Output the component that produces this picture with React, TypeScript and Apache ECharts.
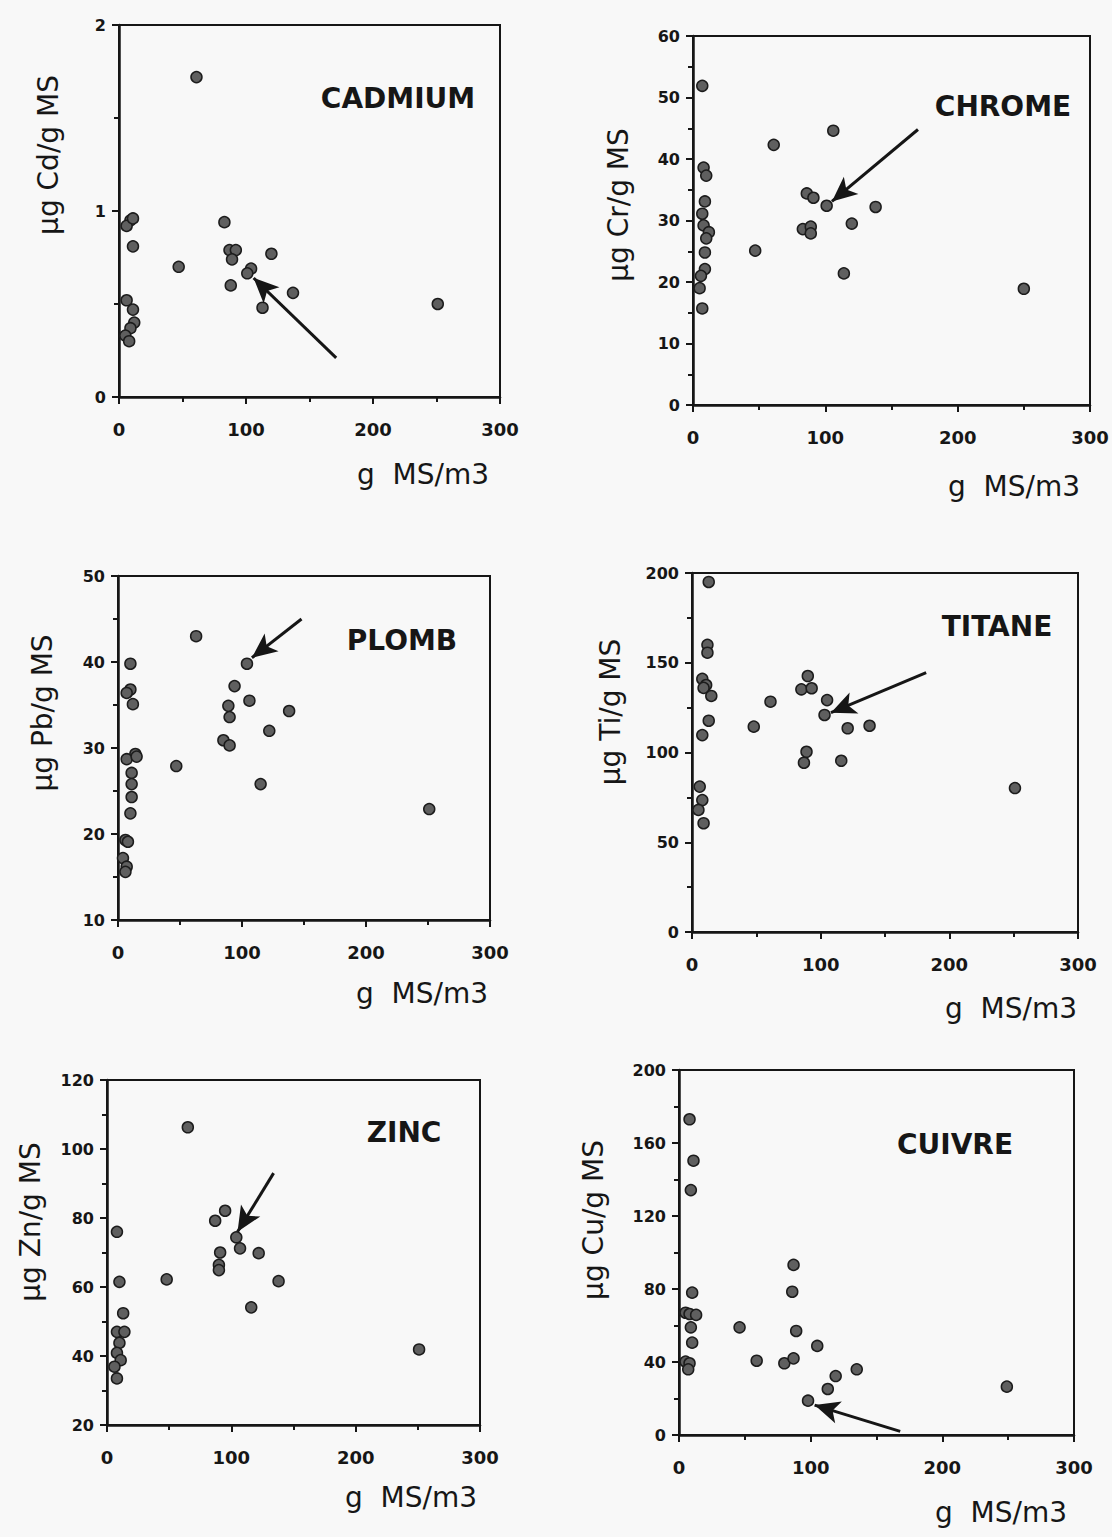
import React, { useEffect, useRef } from "react";
import * as echarts from "echarts";

// ---------- data (x: g MS/m3, y: µg/g MS) ----------
const cadmiumPoints = [
  [9, 0.95], [6, 0.92], [11, 0.96], [11, 0.81], [6, 0.52], [11, 0.47], [12, 0.40],
  [9, 0.37], [5, 0.33], [8, 0.30], [61, 1.72], [47, 0.70], [83, 0.94], [87, 0.79],
  [92, 0.79], [89, 0.74], [88, 0.60], [104, 0.69], [101, 0.665], [120, 0.77],
  [137, 0.56], [113, 0.48], [251, 0.50],
];
const chromePoints = [
  [7, 51.9], [8, 38.6], [10, 37.3], [9, 33.1], [7, 31.1], [8, 29.2], [12, 28.1],
  [10, 27.1], [9, 24.8], [9, 22.1], [6, 21.0], [5, 19.0], [7, 15.7], [61, 42.3],
  [106, 44.6], [86, 34.4], [91, 33.7], [101, 32.4], [138, 32.2], [120, 29.5],
  [83, 28.6], [89, 29.0], [89, 27.9], [47, 25.1], [114, 21.4], [250, 18.9],
];
const plombPoints = [
  [63, 43.0], [10, 39.8], [10, 36.8], [7, 36.4], [12, 35.1], [104, 39.8], [94, 37.2],
  [106, 35.5], [89, 34.9], [90, 33.6], [138, 34.3], [122, 32.0], [85, 30.9],
  [90, 30.3], [14, 29.3], [7, 28.7], [15, 29.0], [11, 27.1], [11, 25.8], [11, 24.3],
  [10, 22.4], [47, 27.9], [115, 25.8], [6, 19.3], [8, 19.1], [4, 17.2], [7, 16.2],
  [6, 15.6], [251, 22.9],
];
const titanePoints = [
  [13, 195], [12, 160], [12, 155.6], [8, 141], [11, 137.6], [15, 131.5], [9, 136],
  [13, 117.7], [8, 109.7], [6, 81], [8, 73.5], [5, 68], [9, 60.6], [90, 142.6],
  [85, 135.2], [93, 135.8], [61, 128.3], [105, 129.2], [103, 120.9], [48, 114.4],
  [121, 113.5], [138, 114.9], [89, 100.4], [87, 94.3], [116, 95.4], [251, 80.2],
];
const zincPoints = [
  [65, 106.3], [8, 76.0], [10, 61.5], [13, 52.4], [8, 47.0], [14, 47.0], [10, 43.8],
  [8, 40.9], [11, 38.8], [6, 36.9], [8, 33.5], [95, 82.1], [87, 79.2], [104, 74.4],
  [107, 71.2], [91, 70.0], [90, 66.4], [90, 64.9], [122, 69.8], [48, 62.2],
  [138, 61.7], [116, 54.1], [251, 41.9],
];
const cuivrePoints = [
  [8, 173], [11, 150.3], [9, 134.2], [10, 78], [5, 67], [8, 66.3], [13, 65.8],
  [9, 59], [10, 50.6], [5, 40.2], [8, 39.3], [7, 36], [87, 93.2], [86, 78.5],
  [46, 59], [89, 57], [105, 48.8], [59, 40.7], [80, 39.3], [87, 42], [135, 36],
  [119, 32.3], [113, 25.2], [98, 18.8], [249, 26.5],
];

// arrows: [tail, tip] in data coordinates
const cadmiumArrow = [[171, 0.21], [106, 0.64]];
const chromeArrow = [[170, 44.8], [105, 33.1]];
const plombArrow = [[148, 45.0], [108, 40.5]];
const titaneArrow = [[182, 144.5], [108, 122.2]];
const zincArrow = [[134, 93], [105, 76]];
const cuivreArrow = [[168, 2], [103, 16.4]];

const titles = ["CADMIUM", "CHROME", "PLOMB", "TITANE", "ZINC", "CUIVRE"];
const yNames = ["µg Cd/g MS", "µg Cr/g MS", "µg Pb/g MS", "µg Ti/g MS", "µg Zn/g MS", "µg Cu/g MS"];
const xName = "g  MS/m3";

const yMins = [0, 0, 10, 0, 20, 0];
const yMaxs = [2, 60, 50, 200, 120, 200];
const yIntervals = [1, 10, 10, 50, 20, 40];
const xMin = 0;
const xMax = 300;
const xInterval = 100;

// ---------- layout ----------
const grids = [
  { left: 119, top: 25, width: 381, height: 372 },
  { left: 693, top: 36, width: 397, height: 369 },
  { left: 118, top: 576, width: 372, height: 344 },
  { left: 692, top: 573, width: 386, height: 359 },
  { left: 107, top: 1080, width: 373, height: 345 },
  { left: 679, top: 1070, width: 395, height: 365 },
];
const titlePos = [[398, 98], [1003, 106], [402, 640], [997, 626], [404, 1132], [955, 1144]];
const yNamePos = [[48, 155], [618, 205], [42, 713], [610, 712], [30, 1222], [593, 1220]];
const xNamePos = [[423, 474], [1014, 486], [422, 993], [1011, 1008], [411, 1497], [1001, 1512]];

const INK = "#161616";
const FONT = "DejaVu Sans";

export default function App() {
  const ref = useRef<HTMLDivElement>(null);

  useEffect(() => {
    if (!ref.current) return;
    const chart = echarts.init(ref.current, undefined, { renderer: "svg" });
    const allPoints = [cadmiumPoints, chromePoints, plombPoints, titanePoints, zincPoints, cuivrePoints];
    const arrows = [cadmiumArrow, chromeArrow, plombArrow, titaneArrow, zincArrow, cuivreArrow];

    const tickCommon = {
      axisLine: { show: true, onZero: false, lineStyle: { color: INK, width: 2.5 } },
      axisTick: { show: true, inside: false, length: 7, lineStyle: { color: INK, width: 2 } },
      minorTick: { show: true, splitNumber: 2, length: 5, lineStyle: { color: INK, width: 2 } },
      splitLine: { show: false },
      minorSplitLine: { show: false },
    };

    const option: any = {
      animation: false,
      backgroundColor: "#f8f8f8",
      grid: grids.map((g) => ({
        ...g,
        show: true,
        borderColor: INK,
        borderWidth: 2,
        backgroundColor: "transparent",
        containLabel: false,
        outerBoundsMode: "none",
      })),
      xAxis: grids.map((_, i) => ({
        type: "value",
        gridIndex: i,
        min: xMin,
        max: xMax,
        interval: xInterval,
        ...tickCommon,
        axisLabel: {
          show: true,
          margin: 23,
          color: INK,
          fontFamily: FONT,
          fontWeight: "bold",
          fontSize: 18,
          showMinLabel: true,
          showMaxLabel: true,
        },
      })),
      yAxis: grids.map((_, i) => ({
        type: "value",
        gridIndex: i,
        min: yMins[i],
        max: yMaxs[i],
        interval: yIntervals[i],
        ...tickCommon,
        axisLabel: {
          show: true,
          margin: 13,
          color: INK,
          fontFamily: FONT,
          fontWeight: "bold",
          fontSize: 16,
          showMinLabel: true,
          showMaxLabel: true,
        },
      })),
      series: allPoints.map((pts, i) => ({
        type: "scatter",
        name: titles[i],
        xAxisIndex: i,
        yAxisIndex: i,
        data: pts,
        symbol: "circle",
        symbolSize: 11,
        itemStyle: { color: "#5f5f5f", borderColor: "#1c1c1c", borderWidth: 1.5, opacity: 1 },
        markLine: {
          silent: true,
          symbol: ["none", "arrow"],
          symbolSize: [17, 25],
          label: { show: false },
          lineStyle: { color: INK, width: 3, type: "solid" },
          data: [[{ coord: arrows[i][0] }, { coord: arrows[i][1] }]],
        },
      })),
      graphic: [
        ...titles.map((t, i) => ({
          type: "text",
          x: titlePos[i][0],
          y: titlePos[i][1],
          style: {
            text: t,
            fill: INK,
            font: `bold 28px "${FONT}"`,
            textAlign: "center",
            textVerticalAlign: "middle",
          },
        })),
        ...yNames.map((t, i) => ({
          type: "text",
          x: yNamePos[i][0],
          y: yNamePos[i][1],
          rotation: Math.PI / 2,
          style: {
            text: t,
            fill: INK,
            font: `28px "${FONT}"`,
            textAlign: "center",
            textVerticalAlign: "middle",
          },
        })),
        ...xNamePos.map((p) => ({
          type: "text",
          x: p[0],
          y: p[1],
          style: {
            text: xName,
            fill: INK,
            font: `28px "${FONT}"`,
            textAlign: "center",
            textVerticalAlign: "middle",
          },
        })),
      ],
    };

    chart.setOption(option);
    return () => chart.dispose();
  }, []);

  return (
    <div
      ref={ref}
      style={{ position: "absolute", left: 0, top: 0, width: 1112, height: 1537 }}
    />
  );
}
